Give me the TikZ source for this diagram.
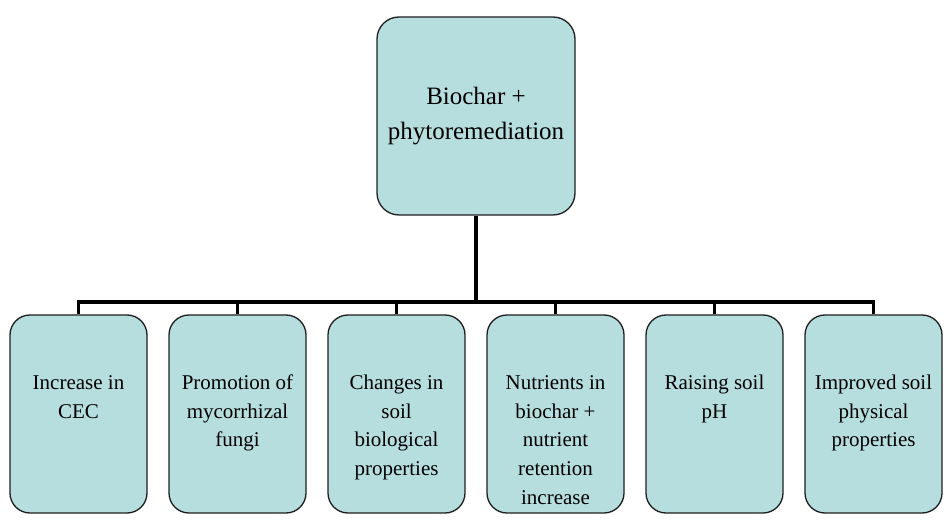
\documentclass[tikz,border=0pt]{standalone}
\usepackage{fontspec}
\setmainfont{Liberation Serif}
\definecolor{boxfill}{RGB}{183,222,223}
\definecolor{boxline}{RGB}{30,30,30}
\begin{document}
\begin{tikzpicture}[x=1pt,y=1pt,
  topbox/.style={draw=boxline, line width=1.3pt, fill=boxfill, rounded corners=22pt,
    minimum width=198pt, minimum height=198pt, inner sep=0pt, align=center,
    font=\fontsize{25}{35}\selectfont},
  leafbox/.style={draw=boxline, line width=1.3pt, fill=boxfill, rounded corners=20pt,
    minimum width=137pt, minimum height=198pt, inner sep=0pt},
  leaftext/.style={anchor=base, inner sep=0pt, font=\fontsize{21}{28.8}\selectfont},
  bus/.style={line width=3.6pt, black}]
\useasboundingbox (0,0) rectangle (952,530);
\node[topbox] (top) at (476,414) {Biochar +\\phytoremediation};
\foreach \i/\t in {1/{Increase in\\CEC},
                   2/{Promotion of\\mycorrhizal\\fungi},
                   3/{Changes in\\soil\\biological\\properties},
                   4/{Nutrients in\\biochar +\\nutrient\\retention\\increase},
                   5/{Raising soil\\pH},
                   6/{Improved soil\\physical\\properties}} {
  \node[leafbox] (b\i) at ({78.5+159*(\i-1)},116) {};
  \node[leaftext] (t\i) at ([yshift=-75pt]b\i.north) {\parbox[t]{134pt}{\centering \t}};
}
\coordinate (busL) at (b1.north |- 0,228);
\coordinate (busR) at (b6.north |- 0,228);
\coordinate (busM) at (top.south |- 0,228);
\draw[bus, line cap=rect] (busL) -- (busR);
\draw[bus] (top.south) -- (busM);
\foreach \i in {1,...,6} {
  \draw[bus] (b\i.north |- busL) -- (b\i.north);
}
\end{tikzpicture}
\end{document}
